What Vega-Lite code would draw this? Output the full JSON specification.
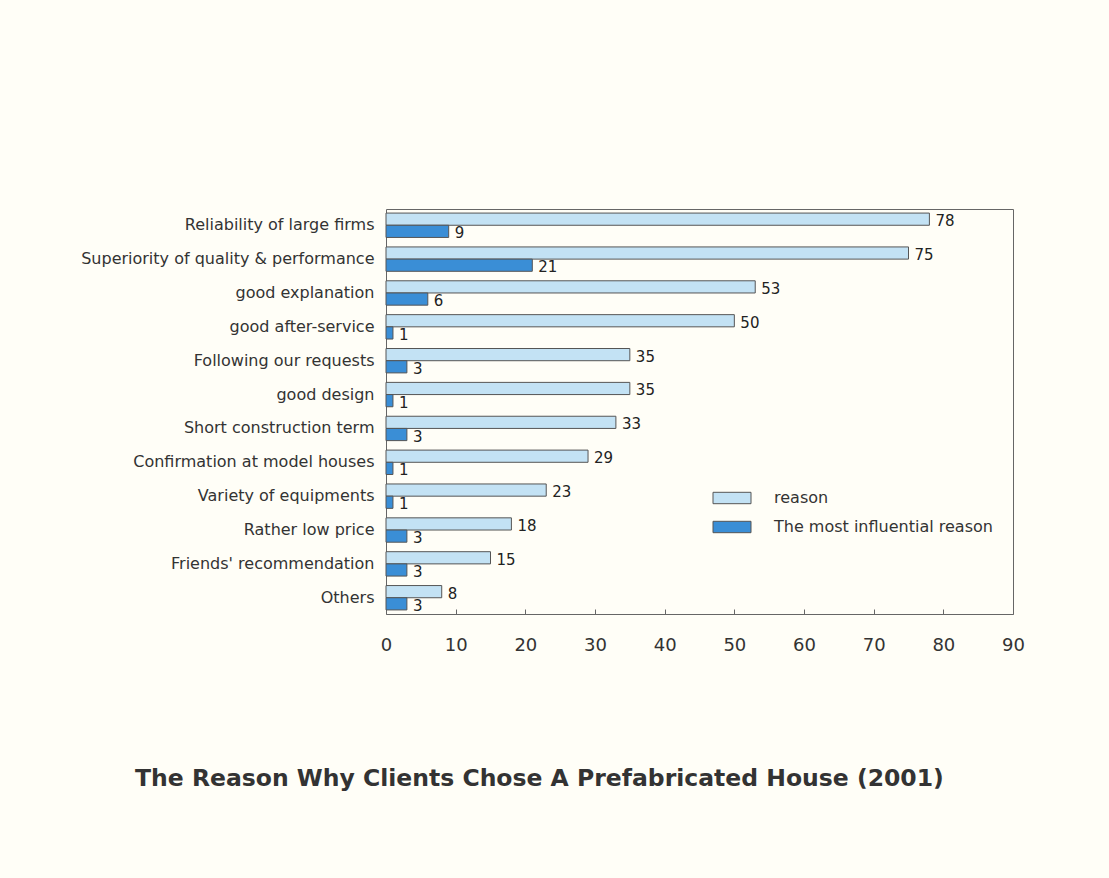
{
  "$schema": "https://vega.github.io/schema/vega-lite/v6.json",
  "autosize": "none",
  "width": 627,
  "height": 405,
  "padding": {"left": 386, "top": 209, "right": 96, "bottom": 264},
  "background": "#fffef7",
  "title": {
    "text": "The Reason Why Clients Chose A Prefabricated House (2001)",
    "orient": "bottom",
    "anchor": "start",
    "frame": "group",
    "dx": -251,
    "offset": 113,
    "fontSize": 23.5,
    "fontWeight": "bold",
    "font": "DejaVu Sans",
    "color": "#333333"
  },
  "data": {
    "values": [
      {"category": "Reliability of large firms", "series": "reason", "value": 78},
      {"category": "Reliability of large firms", "series": "The most influential reason", "value": 9},
      {"category": "Superiority of quality & performance", "series": "reason", "value": 75},
      {"category": "Superiority of quality & performance", "series": "The most influential reason", "value": 21},
      {"category": "good explanation", "series": "reason", "value": 53},
      {"category": "good explanation", "series": "The most influential reason", "value": 6},
      {"category": "good after-service", "series": "reason", "value": 50},
      {"category": "good after-service", "series": "The most influential reason", "value": 1},
      {"category": "Following our requests", "series": "reason", "value": 35},
      {"category": "Following our requests", "series": "The most influential reason", "value": 3},
      {"category": "good design", "series": "reason", "value": 35},
      {"category": "good design", "series": "The most influential reason", "value": 1},
      {"category": "Short construction term", "series": "reason", "value": 33},
      {"category": "Short construction term", "series": "The most influential reason", "value": 3},
      {"category": "Confirmation at model houses", "series": "reason", "value": 29},
      {"category": "Confirmation at model houses", "series": "The most influential reason", "value": 1},
      {"category": "Variety of equipments", "series": "reason", "value": 23},
      {"category": "Variety of equipments", "series": "The most influential reason", "value": 1},
      {"category": "Rather low price", "series": "reason", "value": 18},
      {"category": "Rather low price", "series": "The most influential reason", "value": 3},
      {"category": "Friends' recommendation", "series": "reason", "value": 15},
      {"category": "Friends' recommendation", "series": "The most influential reason", "value": 3},
      {"category": "Others", "series": "reason", "value": 8},
      {"category": "Others", "series": "The most influential reason", "value": 3}
    ]
  },
  "encoding": {
    "y": {
      "field": "category",
      "type": "nominal",
      "sort": null,
      "scale": {"paddingInner": 0.28, "paddingOuter": 0.12},
      "axis": {
        "title": null,
        "ticks": false,
        "domain": false,
        "labelFontSize": 16,
        "labelFont": "DejaVu Sans",
        "labelColor": "#333333",
        "labelPadding": 12,
        "labelLimit": 400
      }
    },
    "yOffset": {
      "field": "series",
      "type": "nominal",
      "sort": ["reason", "The most influential reason"],
      "scale": {"paddingInner": 0, "paddingOuter": 0}
    },
    "x": {
      "field": "value",
      "type": "quantitative",
      "scale": {"domain": [0, 90], "nice": false},
      "axis": {
        "title": null,
        "values": [0, 10, 20, 30, 40, 50, 60, 70, 80, 90],
        "grid": false,
        "domain": false,
        "tickSize": -5,
        "tickColor": "#666666",
        "labelFontSize": 18,
        "labelFont": "DejaVu Sans",
        "labelColor": "#333333",
        "labelPadding": 27,
        "labelFlush": false
      }
    }
  },
  "layer": [
    {
      "mark": {"type": "bar", "stroke": "#555555", "strokeWidth": 1},
      "encoding": {
        "color": {
          "field": "series",
          "type": "nominal",
          "sort": ["reason", "The most influential reason"],
          "scale": {"domain": ["reason", "The most influential reason"], "range": ["#c3e2f4", "#3a8ed6"]},
          "legend": {
            "title": null,
            "orient": "none",
            "legendX": 336,
            "legendY": 279,
            "symbolType": "M-2,-0.6H2V0.6H-2Z",
            "symbolSize": 361,
            "symbolStrokeColor": "#555555",
            "symbolStrokeWidth": 1,
            "symbolOpacity": 1,
            "labelOffset": 32,
            "labelFontSize": 16,
            "labelFont": "DejaVu Sans",
            "labelColor": "#333333",
            "rowPadding": 11,
            "labelLimit": 300
          }
        }
      }
    },
    {
      "mark": {"type": "text", "align": "left", "baseline": "middle", "dx": 6, "dy": 2, "fontSize": 15, "font": "DejaVu Sans", "color": "#222222"},
      "encoding": {
        "text": {"field": "value", "type": "quantitative"}
      }
    }
  ],
  "config": {
    "view": {"stroke": "#666666", "strokeWidth": 1}
  }
}
